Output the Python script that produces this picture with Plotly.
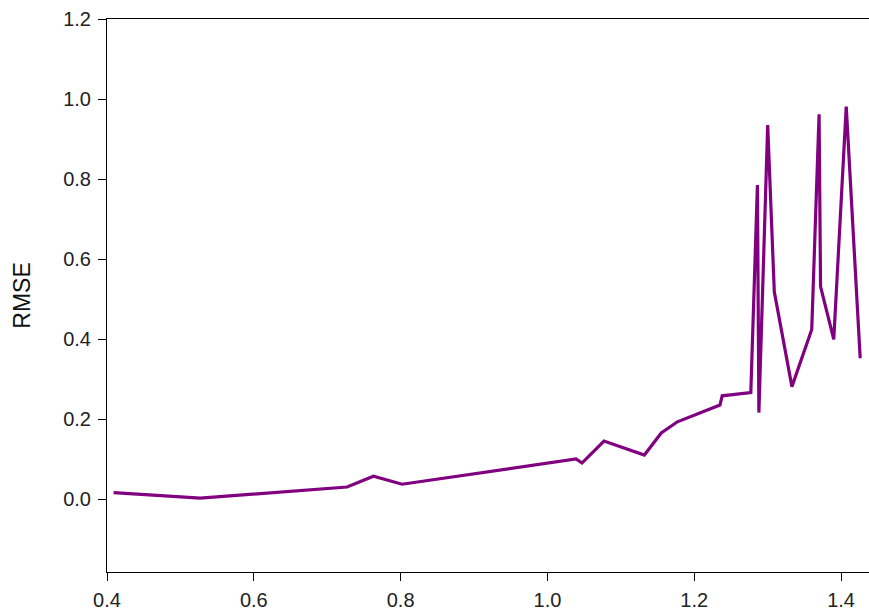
import plotly.graph_objects as go

# RMSE as a function of the parameter value
param = [0.409, 0.527, 0.727, 0.763, 0.802, 1.039, 1.047, 1.077, 1.132, 1.155,
         1.177, 1.235, 1.238, 1.277, 1.286, 1.288, 1.300, 1.309, 1.333, 1.360,
         1.370, 1.372, 1.390, 1.407, 1.426]
rmse = [0.016, 0.002, 0.030, 0.057, 0.037, 0.100, 0.090, 0.145, 0.110, 0.165,
        0.193, 0.235, 0.258, 0.266, 0.785, 0.216, 0.935, 0.518, 0.281, 0.424,
        0.962, 0.531, 0.399, 0.981, 0.352]

x_ticks = [0.4, 0.6, 0.8, 1.0, 1.2, 1.4]
x_tick_labels = ["0.4", "0.6", "0.8", "1.0", "1.2", "1.4"]
y_ticks = [0.0, 0.2, 0.4, 0.6, 0.8, 1.0, 1.2]
y_tick_labels = ["0.0", "0.2", "0.4", "0.6", "0.8", "1.0", "1.2"]

fig = go.Figure()
fig.add_trace(go.Scatter(
    x=param, y=rmse, mode="lines",
    line=dict(color="#800080", width=3.2),
    showlegend=False,
))

tick_font = dict(family="Liberation Sans, Arial, sans-serif", size=20, color="#222222")

fig.update_layout(
    width=869, height=615,
    margin=dict(l=107, r=0, t=19, b=43),
    paper_bgcolor="white", plot_bgcolor="white",
    xaxis=dict(
        range=[0.4, 1.438],
        tickmode="array", tickvals=x_ticks, ticktext=x_tick_labels,
        ticks="outside", ticklen=8, tickwidth=1, tickcolor="black",
        showline=True, linecolor="black", linewidth=1, mirror=True,
        showgrid=False, zeroline=False,
        tickfont=tick_font, automargin=False, ticklabelstandoff=2,
    ),
    yaxis=dict(
        range=[-0.1825, 1.2001],
        tickmode="array", tickvals=y_ticks, ticktext=y_tick_labels,
        ticks="outside", ticklen=8, tickwidth=1, tickcolor="black",
        showline=True, linecolor="black", linewidth=1, mirror=False,
        showgrid=False, zeroline=False,
        tickfont=tick_font, automargin=False, ticklabelstandoff=3,
        title=dict(text="RMSE", standoff=26,
                   font=dict(family="Liberation Sans, Arial, sans-serif", size=23, color="#111111")),
    ),
)

fig.write_html("out.html")
